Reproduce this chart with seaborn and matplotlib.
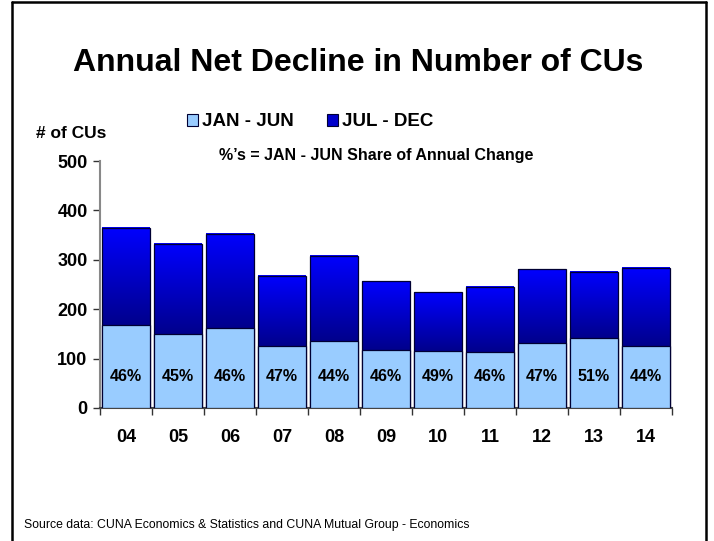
import numpy as np
import pandas as pd
import matplotlib
matplotlib.use("Agg")
import matplotlib.pyplot as plt
from matplotlib.colors import LinearSegmentedColormap
from matplotlib.patches import Patch
from matplotlib.lines import Line2D
import seaborn as sns

# Net decline in number of credit unions, by year
years = ["04", "05", "06", "07", "08", "09", "10", "11", "12", "13", "14"]
annual_total = [365, 332, 353, 268, 308, 257, 234, 245, 282, 276, 284]
jan_jun_share = [46, 45, 46, 47, 44, 46, 49, 46, 47, 51, 44]
y_ticks = [0, 100, 200, 300, 400, 500]

jan_jun = [t * s / 100 for t, s in zip(annual_total, jan_jun_share)]
df = pd.DataFrame({"year": years, "total": annual_total, "jan_jun": jan_jun,
                   "share": jan_jun_share})

sns.set_theme(style="white")
plt.rcParams["font.family"] = ["Liberation Sans", "DejaVu Sans"]
plt.rcParams["font.weight"] = "bold"
for key in ["text.color", "axes.labelcolor", "xtick.labelcolor", "ytick.labelcolor"]:
    plt.rcParams[key] = "black"

W, H = 714, 541
fig = plt.figure(figsize=(W / 100, H / 100), dpi=100)
ax = fig.add_axes([100 / W, 1 - 408 / H, (672 - 100) / W, (408 - 161) / H])

LIGHT = "#99CCFF"
EDGE = "#000033"

# full-year bars (JUL - DEC segment shows above the JAN - JUN part)
sns.barplot(data=df, x="year", y="total", color="#0000FF", width=0.92,
            saturation=1, edgecolor=EDGE, linewidth=0.9, ax=ax)
top_bars = list(ax.patches)

grad = LinearSegmentedColormap.from_list("jd", ["#00008C", "#0000FF"])
column = np.linspace(0, 1, 256).reshape(-1, 1)
for bar, low in zip(top_bars, df["jan_jun"]):
    x0 = bar.get_x()
    x1 = x0 + bar.get_width()
    y1 = bar.get_height()
    bar.set_facecolor("none")
    bar.set_zorder(3)
    ax.imshow(column, cmap=grad, origin="lower", aspect="auto",
              extent=[x0, x1, low, y1], zorder=2, interpolation="bilinear")

sns.barplot(data=df, x="year", y="jan_jun", color=LIGHT, width=0.92,
            saturation=1, edgecolor=EDGE, linewidth=0.9, ax=ax)
for p in ax.patches[len(top_bars):]:
    p.set_zorder(4)

# share labels inside the light segments
for i, s in enumerate(df["share"]):
    ax.text(i, 63, f"{s}%", ha="center", va="center", fontsize=11.5,
            fontweight="bold", color="black", zorder=6)

ax.set_xlim(-0.5, len(years) - 0.5)
ax.set_ylim(0, 500)
ax.set_yticks(y_ticks)
ax.set_yticklabels([str(v) for v in y_ticks], fontsize=13, fontweight="bold")
ax.set_xticks(range(len(years)))
ax.set_xticklabels(years, fontsize=13, fontweight="bold")
ax.set_xticks(np.arange(-0.5, len(years), 1.0), minor=True)
ax.tick_params(axis="x", which="major", length=0, pad=15)
ax.tick_params(axis="x", which="minor", length=5, width=1, color="#333333",
               direction="out", bottom=True)
ax.tick_params(axis="y", length=5, width=1, color="#333333", direction="out",
               left=True, pad=4)
ax.set_xlabel("")
ax.set_ylabel("")
for side in ["top", "right"]:
    ax.spines[side].set_visible(False)
ax.spines["left"].set_color("#888888")
ax.spines["left"].set_linewidth(1.5)
ax.spines["bottom"].set_color("#444444")
ax.spines["bottom"].set_linewidth(1.5)
ax.set_facecolor("white")

# page frame (open at the bottom)
frame_kw = dict(color="black", linewidth=1.8, transform=fig.transFigure)
fig.add_artist(Line2D([12 / W, 12 / W], [0, 1 - 2 / H], **frame_kw))
fig.add_artist(Line2D([12 / W, 706 / W], [1 - 2 / H, 1 - 2 / H], **frame_kw))
fig.add_artist(Line2D([706 / W, 706 / W], [1 - 2 / H, 0], **frame_kw))

fig.text(358 / W, 1 - 71 / H, "Annual Net Decline in Number of CUs",
         ha="center", va="baseline", fontsize=23, fontweight="bold")
fig.text(36 / W, 1 - 133 / H, "# of CUs", ha="left", va="center",
         fontsize=12.5, fontweight="bold")
fig.text(376 / W, 1 - 155 / H, "%\u2019s = JAN - JUN Share of Annual Change",
         ha="center", va="center", fontsize=11.5, fontweight="bold")
fig.text(24 / W, 1 - 525 / H,
         "Source data: CUNA Economics & Statistics and CUNA Mutual Group - Economics",
         ha="left", va="center", fontsize=8.8, fontweight="normal")

handles = [Patch(facecolor=LIGHT, edgecolor=EDGE, linewidth=0.8, label="JAN - JUN"),
           Patch(facecolor="#0000CC", edgecolor=EDGE, linewidth=0.8, label="JUL - DEC")]
fig.legend(handles=handles, loc="center", bbox_to_anchor=(310 / W, 1 - 122 / H),
           ncol=2, frameon=False, handlelength=0.6, handleheight=0.6,
           handletextpad=0.2, columnspacing=1.8,
           prop={"weight": "bold", "size": 13.5})

fig.savefig("out.png", dpi=100, facecolor="white")
